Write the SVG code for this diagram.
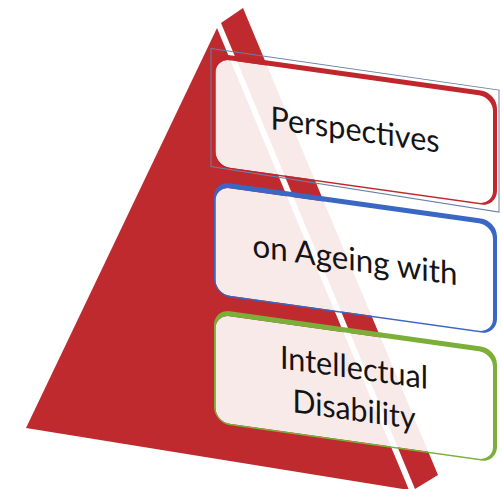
<svg xmlns="http://www.w3.org/2000/svg" width="502" height="489" viewBox="0 0 502 489">
<style>
.red{fill:#BF2A2F}
.fill{fill:#FFFFFF;fill-opacity:0.9}
.ring{fill-rule:evenodd}
.txt{font-family:Lato,"Open Sans","Liberation Sans",sans-serif;font-size:32px;fill:#141414;text-anchor:middle}
.frame{fill:none;stroke:#6A80A8;stroke-width:1}
</style>
<defs>
<path id="ringShape" d="M16,0 H267 A16,16 0 0 1 283,16 V98 A16,16 0 0 1 267,114 H16 A16,16 0 0 1 0,98 V16 A16,16 0 0 1 16,0 Z M15.5,5 H265 A14,14 0 0 1 279,19 V98.5 A14,14 0 0 1 265,112.5 H15.5 A14,14 0 0 1 1.5,98.5 V19 A14,14 0 0 1 15.5,5 Z"/>
<path id="innerShape" d="M15.5,5 H265 A14,14 0 0 1 279,19 V98.5 A14,14 0 0 1 265,112.5 H15.5 A14,14 0 0 1 1.5,98.5 V19 A14,14 0 0 1 15.5,5 Z"/>
</defs>
<g id="pyramid">
<polygon class="red" points="217,28 26,428 409,490"/>
<polygon class="red" points="221,23 243,8 438,475 415,489"/>
</g>
<g id="connectors"/>
<g id="node-perspectives" transform="translate(214,53) skewY(8)">
<use href="#innerShape" class="fill"/>
<use href="#ringShape" class="ring" fill="#C0272D"/>
<polygon class="frame" points="-3,-4 285,-3 285,119 -3,114"/>
<text class="txt" x="141" y="68" textLength="169" lengthAdjust="spacingAndGlyphs">Perspectives</text>
</g>
<g id="node-ageing" transform="translate(214,181) skewY(8)">
<use href="#innerShape" class="fill"/>
<use href="#ringShape" class="ring" fill="#3A66C4"/>
<text class="txt" x="141" y="70" textLength="205" lengthAdjust="spacingAndGlyphs">on Ageing with</text>
</g>
<g id="node-disability" transform="translate(214,309) skewY(8)">
<use href="#innerShape" class="fill"/>
<use href="#ringShape" class="ring" fill="#7BAF3A"/>
<text class="txt" x="140" y="50" textLength="148" lengthAdjust="spacingAndGlyphs">Intellectual</text>
<text class="txt" x="140" y="92" textLength="123" lengthAdjust="spacingAndGlyphs">Disability</text>
</g>
</svg>
